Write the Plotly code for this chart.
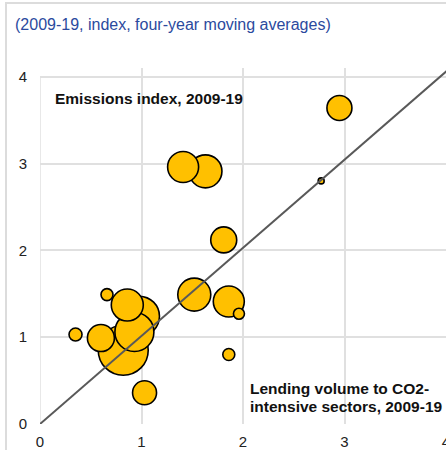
import plotly.graph_objects as go

# Bubble data: lending volume index (x), emissions index (y), bubble size (px diameter)
lending = [0.82, 0.93, 0.98, 0.86, 0.60, 0.35, 0.66, 1.03, 1.52, 1.86, 1.96, 1.86, 1.41, 1.63, 1.81, 2.95, 2.77]
emissions = [0.85, 1.06, 1.24, 1.37, 0.99, 1.03, 1.49, 0.36, 1.49, 1.41, 1.27, 0.80, 2.96, 2.91, 2.12, 3.64, 2.80]
bubble_size = [50, 39, 40, 32, 27, 13, 12, 24, 33, 31, 11, 12, 31, 33, 26, 25, 6]

# 45-degree reference line
ref_x = [0, 4.1]
ref_y = [0, 4.16]

x_ticks = [0, 1, 2, 3, 4]
y_ticks = [0, 1, 2, 3, 4]

order = sorted(range(len(bubble_size)), key=lambda i: -bubble_size[i])
bx = [lending[i] for i in order]
by = [emissions[i] for i in order]
bs = [bubble_size[i] for i in order]

fig = go.Figure()
fig.add_trace(go.Scatter(
    x=bx, y=by, mode="markers",
    marker=dict(size=bs, sizemode="diameter", sizeref=1, color="#FFC000",
                line=dict(color="#000000", width=1.6), opacity=1),
    hoverinfo="x+y", showlegend=False))
fig.add_trace(go.Scatter(
    x=ref_x, y=ref_y, mode="lines",
    line=dict(color="#595959", width=2), showlegend=False, hoverinfo="skip"))

fig.update_layout(
    width=446, height=450,
    margin=dict(l=40, r=0, t=68, b=26, autoexpand=False),
    plot_bgcolor="white", paper_bgcolor="white",
    font=dict(family="Liberation Sans, Arial, sans-serif", size=15, color="#222222"),
    xaxis=dict(range=[0, 4], tickvals=x_ticks, showgrid=True, gridcolor="#e0e0e0", gridwidth=1.5,
               zeroline=False, showline=False, ticks="", ticklabelstandoff=7,
               ticklabeloverflow="allow", automargin=False,
               tickfont=dict(size=15, color="#222222")),
    yaxis=dict(range=[0, 4.1], tickvals=y_ticks, showgrid=True, gridcolor="#e0e0e0", gridwidth=1.5,
               zeroline=False, showline=False, ticks="", ticklabelstandoff=12, automargin=False,
               tickfont=dict(size=15, color="#222222")),
    showlegend=False,
)

# vertical gridline at x=0 (left edge)
fig.add_shape(type="line", xref="x", yref="y", x0=0, x1=0, y0=0, y1=4,
              line=dict(color="#e0e0e0", width=1.5), layer="below")

fig.add_annotation(text="(2009-19, index, four-year moving averages)", xref="paper", yref="paper",
                   x=-0.0665, y=(424 - 25) / 356, xanchor="left", yanchor="middle", showarrow=False,
                   font=dict(size=16, color="#2B4A9E"))
fig.add_annotation(text="<b>Emissions index, 2009-19</b>", xref="x", yref="y",
                   x=0.128, y=3.75, xanchor="left", yanchor="middle", showarrow=False,
                   font=dict(size=15.5, color="#111111"))
fig.add_annotation(text="<b>Lending volume to CO2-</b>", xref="x", yref="y",
                   x=2.045, y=(424 - 389) / 86.75, xanchor="left", yanchor="middle", showarrow=False,
                   font=dict(size=15.5, color="#111111"))
fig.add_annotation(text="<b>intensive sectors, 2009-19</b>", xref="x", yref="y",
                   x=2.045, y=(424 - 407) / 86.75, xanchor="left", yanchor="middle", showarrow=False,
                   font=dict(size=15.5, color="#111111"))

# panel frame (light grey border at top and left of the page) + remove default body margin
post = """
document.body.style.margin='0';
var f=document.createElement('div');
f.style.cssText='position:absolute;left:5px;top:2px;width:460px;height:470px;border-top:2px solid #dcdcdc;border-left:2px solid #dcdcdc;pointer-events:none;z-index:10;';
document.body.appendChild(f);
"""
fig.write_html("out.html", post_script=post, config={"displayModeBar": False})
